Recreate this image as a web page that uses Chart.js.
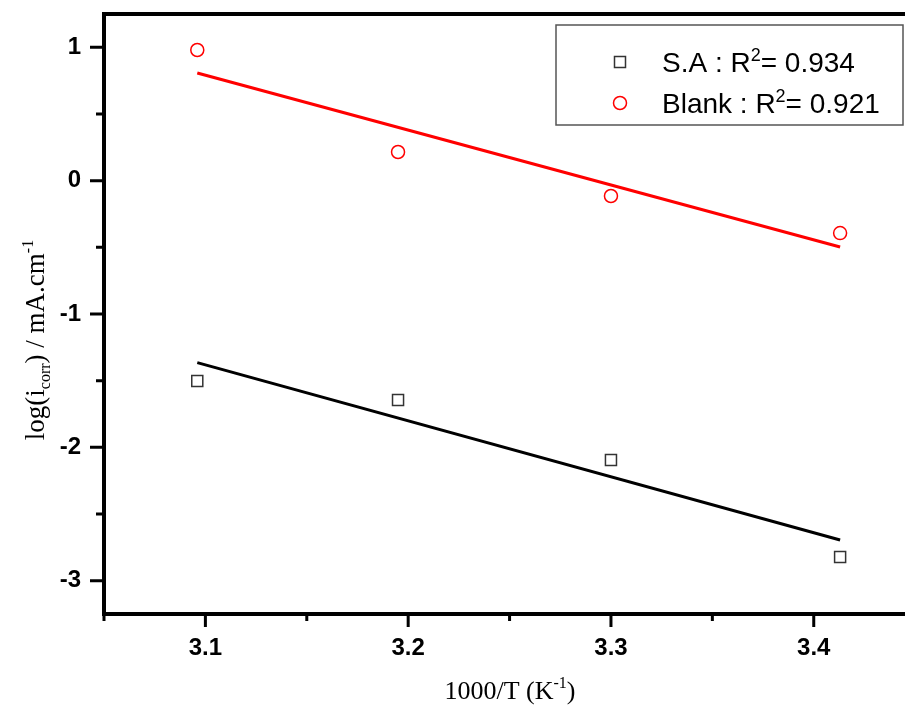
<!DOCTYPE html>
<html>
<head>
<meta charset="utf-8">
<script src="https://cdn.jsdelivr.net/npm/chart.js@4.4.1/dist/chart.umd.min.js"></script>
<style>
  html, body { margin: 0; padding: 0; background: #fff; }
  canvas { display: block; }
</style>
</head>
<body>
<canvas id="chart" width="905" height="712"></canvas>
<script>
// 1000/T values of the four temperatures
const invTemp = [3.096, 3.195, 3.300, 3.413];
// log(i_corr)
const saValues = [-1.503, -1.645, -2.095, -2.823];
const blankValues = [0.98, 0.215, -0.115, -0.393];
// fitted lines, end points only
const fitX = [3.096, 3.413];
const saFit = [-1.365, -2.695];
const blankFit = [0.808, -0.498];

const xTicks = [3.1, 3.2, 3.3, 3.4];
const xMinorTicks = [3.15, 3.25, 3.35];
const yTicks = [-3, -2, -1, 0, 1];
const yMinorTicks = [-2.5, -1.5, -0.5, 0.5];

const legendItems = [
  { name: 'S.A', r2: '0.934' },
  { name: 'Blank', r2: '0.921' },
];

const toPoints = (xs, ys) => xs.map((x, i) => ({ x: x, y: ys[i] }));

// draw a run of text pieces, each with its own size and shift (sub/superscript)
function drawRich(ctx, parts, x, y, family, align) {
  let total = 0;
  parts.forEach(p => {
    ctx.font = `${p.size}px ${family}`;
    p.w = ctx.measureText(p.text).width;
    total += p.w;
  });
  let cx = align === 'center' ? x - total / 2 : x;
  parts.forEach(p => {
    ctx.font = `${p.size}px ${family}`;
    ctx.fillText(p.text, cx, y + (p.dy || 0));
    cx += p.w;
  });
}

// no extra room for labels, the plot area is fixed
const noPadding = s => {
  s.paddingTop = 0; s.paddingBottom = 0;
  s.paddingLeft = 0; s.paddingRight = 0;
};

const framePlugin = {
  id: 'frame',
  afterDraw(chart) {
    const ctx = chart.ctx;
    const a = chart.chartArea;
    const xs = chart.scales.x, ys = chart.scales.y;
    ctx.save();
    ctx.strokeStyle = '#000';
    ctx.lineCap = 'butt';

    // frame (left, top, bottom)
    ctx.lineWidth = 4;
    ctx.beginPath();
    ctx.moveTo(a.right, a.top);
    ctx.lineTo(a.left, a.top);
    ctx.lineTo(a.left, a.bottom);
    ctx.lineTo(a.right, a.bottom);
    ctx.stroke();

    // ticks
    ctx.lineWidth = 3;
    ctx.beginPath();
    xTicks.forEach(v => { const p = xs.getPixelForValue(v); ctx.moveTo(p, a.bottom); ctx.lineTo(p, a.bottom + 13); });
    xMinorTicks.forEach(v => { const p = xs.getPixelForValue(v); ctx.moveTo(p, a.bottom); ctx.lineTo(p, a.bottom + 7); });
    yTicks.forEach(v => { const p = ys.getPixelForValue(v); ctx.moveTo(a.left, p); ctx.lineTo(a.left - 14, p); });
    yMinorTicks.forEach(v => { const p = ys.getPixelForValue(v); ctx.moveTo(a.left, p); ctx.lineTo(a.left - 8, p); });
    ctx.moveTo(a.left, a.bottom); ctx.lineTo(a.left, a.bottom + 7);
    ctx.stroke();

    // axis titles
    ctx.fillStyle = '#000';
    ctx.textBaseline = 'alphabetic';
    const serif = '"Liberation Serif", "Times New Roman", serif';
    drawRich(ctx, [
      { text: '1000/T (K', size: 26 },
      { text: '-1', size: 16, dy: -11 },
      { text: ')', size: 26 },
    ], 510, 699, serif, 'center');

    ctx.save();
    ctx.translate(44, 340);
    ctx.rotate(-Math.PI / 2);
    drawRich(ctx, [
      { text: 'log(i', size: 27 },
      { text: 'corr', size: 16, dy: 6 },
      { text: ') / mA.cm', size: 27 },
      { text: '-1', size: 16, dy: -11 },
    ], 0, 0, serif, 'center');
    ctx.restore();

    // legend box
    const bx = 556, by = 25, bw = 347, bh = 100;
    ctx.lineWidth = 1.5;
    ctx.strokeStyle = '#555';
    ctx.fillStyle = '#fff';
    ctx.fillRect(bx, by, bw, bh);
    ctx.strokeRect(bx, by, bw, bh);

    const sans = '"Liberation Sans", Arial, sans-serif';
    const rows = [62, 103];
    legendItems.forEach((item, i) => {
      const ds = chart.data.datasets[i];
      const my = rows[i];
      ctx.lineWidth = ds.pointBorderWidth;
      ctx.strokeStyle = ds.pointBorderColor;
      ctx.beginPath();
      if (ds.pointStyle === 'rect') {
        ctx.rect(620 - 5.5, my - 5.5, 11, 11);
      } else {
        ctx.arc(620, my, 6.5, 0, Math.PI * 2);
      }
      ctx.stroke();
      ctx.fillStyle = '#000';
      ctx.textBaseline = 'alphabetic';
      drawRich(ctx, [
        { text: `${item.name} : R`, size: 28 },
        { text: '2', size: 18, dy: -11 },
        { text: `= ${item.r2}`, size: 28 },
      ], 662, my + 10, sans, 'left');
    });
    ctx.restore();
  },
};

const tickFont = { family: '"Liberation Sans", Arial, sans-serif', size: 24, weight: 'bold' };

new Chart(document.getElementById('chart'), {
  type: 'scatter',
  data: {
    datasets: [
      {
        label: 'S.A',
        data: toPoints(invTemp, saValues),
        pointStyle: 'rect',
        pointRadius: 7.8,
        pointBorderWidth: 1.5,
        pointBorderColor: '#333',
        pointBackgroundColor: 'rgba(0,0,0,0)',
        showLine: false,
      },
      {
        label: 'Blank',
        data: toPoints(invTemp, blankValues),
        pointStyle: 'circle',
        pointRadius: 6.5,
        pointBorderWidth: 1.5,
        pointBorderColor: '#ff0000',
        pointBackgroundColor: 'rgba(0,0,0,0)',
        showLine: false,
      },
      {
        label: 'S.A fit',
        data: toPoints(fitX, saFit),
        showLine: true,
        borderColor: '#000',
        borderWidth: 3,
        pointRadius: 0,
      },
      {
        label: 'Blank fit',
        data: toPoints(fitX, blankFit),
        showLine: true,
        borderColor: '#ff0000',
        borderWidth: 3,
        pointRadius: 0,
      },
    ],
  },
  options: {
    responsive: false,
    devicePixelRatio: 1,
    animation: false,
    layout: { autoPadding: false, padding: { top: 14, left: 0, right: 0, bottom: 0 } },
    plugins: {
      legend: { display: false },
      tooltip: { enabled: false },
    },
    scales: {
      x: {
        type: 'linear',
        min: 3.05,
        max: 3.445,
        grid: { display: false, drawTicks: false },
        border: { display: false },
        afterBuildTicks: s => { s.ticks = xTicks.map(v => ({ value: v })); },
        afterFit: s => { s.height = 98; noPadding(s); },
        ticks: {
          color: '#000',
          font: tickFont,
          padding: 20,
          callback: v => v.toFixed(1),
        },
      },
      y: {
        type: 'linear',
        min: -3.25,
        max: 1.25,
        grid: { display: false, drawTicks: false },
        border: { display: false },
        afterBuildTicks: s => { s.ticks = yTicks.map(v => ({ value: v })); },
        afterFit: s => { s.width = 104; noPadding(s); },
        ticks: {
          color: '#000',
          font: tickFont,
          padding: 23,
          callback: v => String(v),
        },
      },
    },
  },
  plugins: [framePlugin],
});
</script>
</body>
</html>
